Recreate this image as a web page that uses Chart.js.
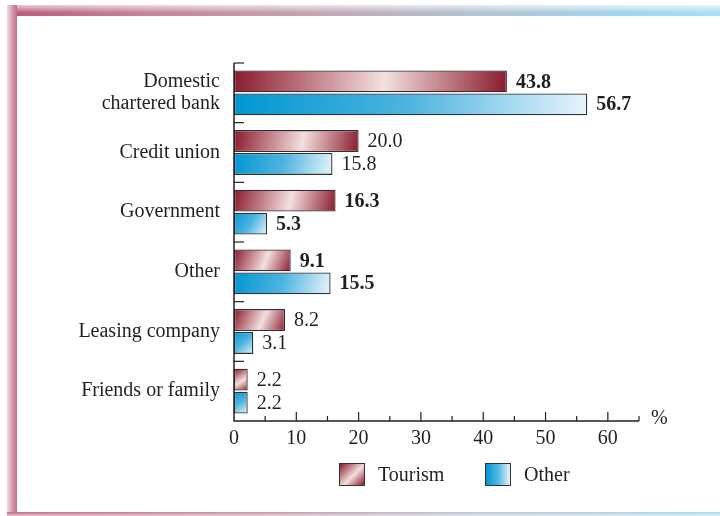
<!DOCTYPE html>
<html>
<head>
<meta charset="utf-8">
<script src="https://cdn.jsdelivr.net/npm/chart.js"></script>
<style>
  html, body { margin: 0; padding: 0; background: #fff; }
  #wrap { position: relative; width: 720px; height: 516px; overflow: hidden; background: #fff; }
  #chart { position: absolute; left: 0; top: 0; }
  .frame-top {
    position: absolute; left: 7px; top: 5px; width: 713px; height: 11px;
    background:
      linear-gradient(to bottom, rgba(255,255,255,0.7), rgba(255,255,255,0) 70%),
      linear-gradient(to right, #bb5a78, #c4869a 20%, #c3a8b5 45%, #b2c2d0 65%, #a4d3ea 85%, #aadff4);
  }
  .frame-left {
    position: absolute; left: 7px; top: 5px; width: 10px; height: 511px;
    background: linear-gradient(to right, #f2dde4, #d497a9 55%, #c06a86);
  }
  .frame-bottom {
    position: absolute; left: 7px; top: 512px; width: 713px; height: 4px;
    background:
      linear-gradient(to bottom, rgba(255,255,255,0), rgba(255,255,255,0.6)),
      linear-gradient(to right, #c06a86, #c792a3 35%, #b8c4d2 65%, #a8d8ee);
  }
  .legend-item { position: absolute; top: 462px; height: 24px; display: flex; align-items: center;
    font-family: 'Liberation Serif', 'Times New Roman', serif; font-size: 20px; color: #231f20; }
  .swatch { width: 24px; height: 21px; border: 1.5px solid #3a3033; margin-right: 13px; }
  .sw-tourism { background: linear-gradient(135deg, #8c1d2e, #f2dede 55%, #8c1d2e); }
  .sw-other { background: linear-gradient(to right, #0096d2, #52b6e2 50%, #e6f4fb); }
</style>
</head>
<body>
<div id="wrap">
  <canvas id="chart" width="720" height="516"></canvas>
  <div class="frame-top"></div>
  <div class="frame-left"></div>
  <div class="frame-bottom"></div>
  <div class="legend-item" style="left:339px"><div class="swatch sw-tourism"></div>Tourism</div>
  <div class="legend-item" style="left:485px"><div class="swatch sw-other"></div>Other</div>
</div>
<script>
// Financing sources, share of firms (%)
const categories = [['Domestic', 'chartered bank'], 'Credit union', 'Government', 'Other', 'Leasing company', 'Friends or family'];
const tourismValues = [43.8, 20.0, 16.3, 9.1, 8.2, 2.2];
const otherValues = [56.7, 15.8, 5.3, 15.5, 3.1, 2.2];
const boldRows = [true, false, true, true, false, false];
const xMax = 65;
const seriesNames = ['Tourism', 'Other'];

const serif = "'Liberation Serif', 'Times New Roman', serif";
const ink = '#231f20';

// per-bar gradient, built from the scales so it follows the bar's length
function barGradient(ctx, stops, sign) {
    const chart = ctx.chart;
    const xs = chart.scales.x, ys = chart.scales.y;
    if (!chart.chartArea || !xs || !ys || ctx.raw === undefined) return stops[0][1];
    const x0 = xs.getPixelForValue(0);
    const x1 = xs.getPixelForValue(ctx.raw);
    const yc = ys.getPixelForValue(ctx.dataIndex) + sign * 11;
    const g = chart.ctx.createLinearGradient(x0, yc - 11, x1, yc + 11);
    stops.forEach(s => g.addColorStop(s[0], s[1]));
    return g;
}

const tourismStops = [[0, '#8a1a2c'], [0.55, '#f3e0e0'], [1, '#8a1a2c']];
const otherStops = [[0, '#0096d2'], [0.5, '#4fb4e0'], [1, '#e8f5fb']];

// axes, ticks, value labels and the unit sign
const axisPlugin = {
    id: 'axisPlugin',
    afterDatasetsDraw(chart) {
        const c = chart.ctx;
        const xs = chart.scales.x, ys = chart.scales.y;
        const area = chart.chartArea;
        const x0 = xs.getPixelForValue(0);
        const xEnd = xs.getPixelForValue(xMax);
        c.save();
        c.strokeStyle = ink;
        c.lineWidth = 1.5;
        c.beginPath();
        c.moveTo(x0, area.top);
        c.lineTo(x0, area.bottom);
        c.lineTo(xEnd, area.bottom);
        c.stroke();

        // x ticks pointing up, long every 10, short every 5
        c.lineWidth = 1.2;
        for (let v = 5; v <= xMax; v += 5) {
            const px = xs.getPixelForValue(v);
            const len = v % 10 === 0 ? 9 : 5;
            c.beginPath();
            c.moveTo(px, area.bottom);
            c.lineTo(px, area.bottom - len);
            c.stroke();
        }

        // short marks at the top of each category band
        const band = ys.getPixelForValue(1) - ys.getPixelForValue(0);
        categories.forEach((_, i) => {
            const py = ys.getPixelForValue(i) - band / 2;
            c.beginPath();
            c.moveTo(x0, py);
            c.lineTo(x0 + 10, py);
            c.stroke();
        });

        // value labels
        c.fillStyle = ink;
        c.textBaseline = 'middle';
        c.textAlign = 'left';
        chart.data.datasets.forEach((ds, di) => {
            const meta = chart.getDatasetMeta(di);
            meta.data.forEach((bar, i) => {
                c.font = (boldRows[i] ? 'bold ' : '') + '20px ' + serif;
                c.fillText(ds.data[i].toFixed(1), bar.x + 9, bar.y + 1);
            });
        });

        c.font = '20px ' + serif;
        c.fillText('%', xEnd + 12, area.bottom - 2);
        c.restore();
    }
};

new Chart(document.getElementById('chart'), {
    type: 'bar',
    data: {
        labels: categories,
        datasets: [
            {
                label: seriesNames[0],
                data: tourismValues,
                backgroundColor: ctx => barGradient(ctx, tourismStops, -1),
                borderColor: '#3b2a2e',
                borderWidth: 1.3,
                borderSkipped: false
            },
            {
                label: seriesNames[1],
                data: otherValues,
                backgroundColor: ctx => barGradient(ctx, otherStops, 1),
                borderColor: '#2c3135',
                borderWidth: 1.3,
                borderSkipped: false
            }
        ]
    },
    options: {
        indexAxis: 'y',
        responsive: false,
        animation: false,
        categoryPercentage: 0.77,
        barPercentage: 0.95,
        layout: { padding: { top: 63, right: 81, bottom: 63, left: 0 } },
        plugins: {
            legend: { display: false },
            tooltip: { enabled: false }
        },
        scales: {
            x: {
                type: 'linear',
                min: 0,
                max: xMax,
                grid: { display: false, drawTicks: false },
                border: { display: false },
                ticks: {
                    stepSize: 5,
                    autoSkip: false,
                    maxRotation: 0,
                    padding: 6,
                    color: ink,
                    font: { family: serif, size: 20 },
                    callback: v => (v % 10 === 0 ? v : '')
                },
                afterFit: s => { s.height = 32; }
            },
            y: {
                type: 'category',
                grid: { display: false, drawTicks: false },
                border: { display: false },
                ticks: {
                    padding: 14,
                    color: ink,
                    font: { family: serif, size: 20, lineHeight: 1.1 }
                },
                afterFit: s => { s.width = 234; }
            }
        }
    },
    plugins: [axisPlugin]
});
</script>
</body>
</html>
